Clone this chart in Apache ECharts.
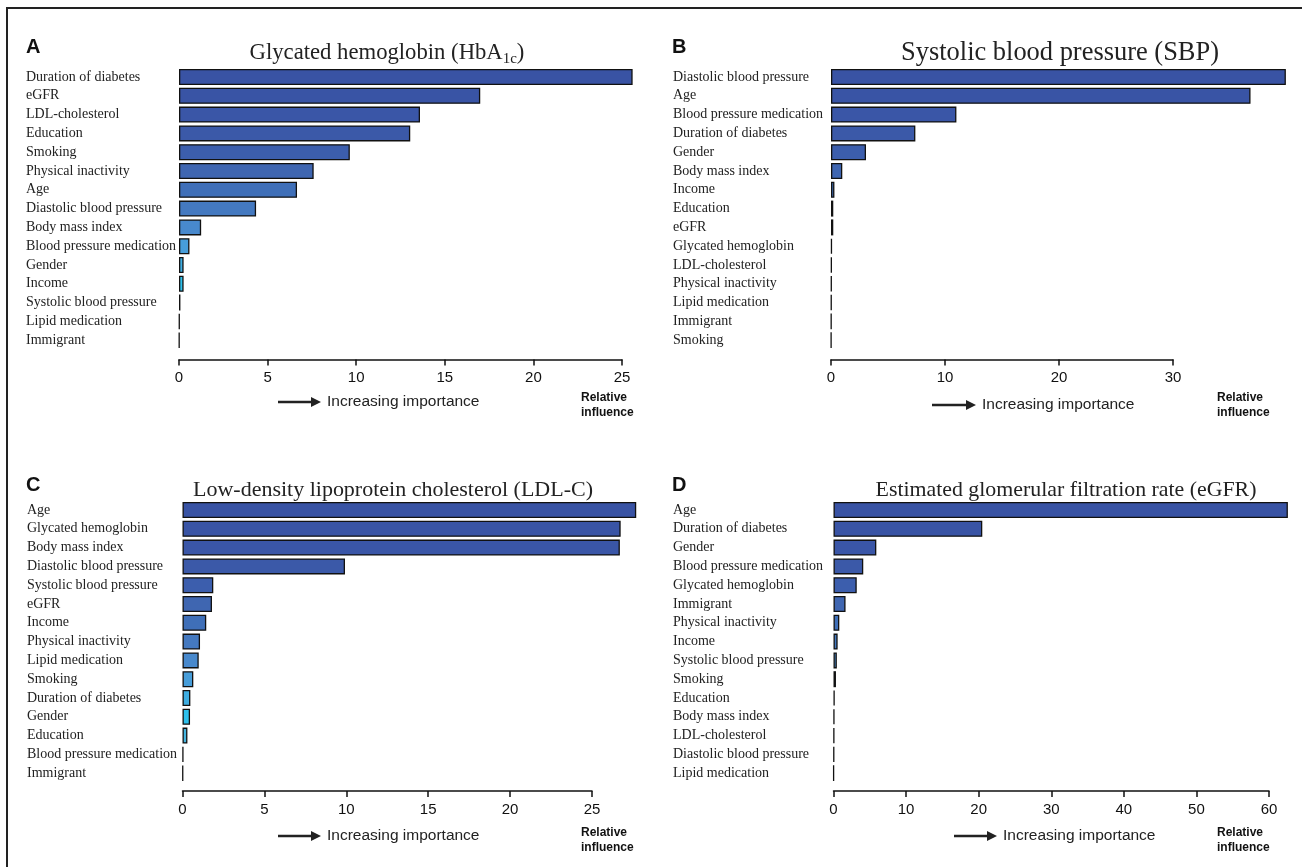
<!DOCTYPE html>
<html><head><meta charset="utf-8">
<script src="https://cdn.jsdelivr.net/npm/echarts@6/dist/echarts.min.js"></script>
<style>html,body{margin:0;padding:0;background:#fff}#c{width:1302px;height:867px}</style>
</head><body><div id="c"></div>
<script>
// ---- data ----
const catsA = ['Duration of diabetes','eGFR','LDL-cholesterol','Education','Smoking','Physical inactivity','Age','Diastolic blood pressure','Body mass index','Blood pressure medication','Gender','Income','Systolic blood pressure','Lipid medication','Immigrant'];
const valsA = [25.6, 17.0, 13.6, 13.05, 9.64, 7.6, 6.66, 4.35, 1.25, 0.59, 0.26, 0.26, 0.08, 0.03, 0.02];
const catsB = ['Diastolic blood pressure','Age','Blood pressure medication','Duration of diabetes','Gender','Body mass index','Income','Education','eGFR','Glycated hemoglobin','LDL-cholesterol','Physical inactivity','Lipid medication','Immigrant','Smoking'];
const valsB = [39.9, 36.8, 11.0, 7.4, 3.07, 0.99, 0.3, 0.2, 0.2, 0.08, 0.06, 0.05, 0.04, 0.03, 0.02];
const catsC = ['Age','Glycated hemoglobin','Body mass index','Diastolic blood pressure','Systolic blood pressure','eGFR','Income','Physical inactivity','Lipid medication','Smoking','Duration of diabetes','Gender','Education','Blood pressure medication','Immigrant'];
const valsC = [27.7, 26.75, 26.7, 9.92, 1.88, 1.8, 1.45, 1.07, 0.99, 0.66, 0.48, 0.46, 0.3, 0.05, 0.03];
const catsD = ['Age','Duration of diabetes','Gender','Blood pressure medication','Glycated hemoglobin','Immigrant','Physical inactivity','Income','Systolic blood pressure','Smoking','Education','Body mass index','LDL-cholesterol','Diastolic blood pressure','Lipid medication'];
const valsD = [62.6, 20.5, 5.9, 4.1, 3.2, 1.66, 0.8, 0.57, 0.46, 0.34, 0.17, 0.12, 0.1, 0.08, 0.03];
const axisA = {max: 25, step: 5};
const axisB = {max: 30, step: 10};
const axisC = {max: 25, step: 5};
const axisD = {max: 60, step: 10};
const titleA = ['Glycated hemoglobin (HbA', '1c', ')'];
const titleB = 'Systolic blood pressure (SBP)';
const titleC = 'Low-density lipoprotein cholesterol (LDL-C)';
const titleD = 'Estimated glomerular filtration rate (eGFR)';

// ---- style ----
const palette = ['#3953a4','#3954a5','#3a56a7','#3b59a8','#3c5ead','#3f66b1','#3f6fb8','#4479c0','#4889cd','#479dd9','#3faee2','#2ec0ec','#45b5e0','#2e4a7a','#333333'];
const SERIF = '"Liberation Serif","Times New Roman",serif';
const SANS = '"Liberation Sans",Arial,Helvetica,sans-serif';

const panels = [
  {cats: catsA, vals: valsA, ax: axisA, left: 179, width: 443, top: 67.6, offset: 10, labelX: 26,
   letter: 'A', lx: 26, ly: 47, tx: 387, ty: 53, tw: 275, arrow: [278, 321, 402], rx: 581, ry: 398},
  {cats: catsB, vals: valsB, ax: axisB, left: 831, width: 342, top: 67.6, offset: 10, labelX: 673,
   letter: 'B', lx: 672, ly: 47, tx: 1060, ty: 53, tw: 318, arrow: [932, 976, 405], rx: 1217, ry: 398},
  {cats: catsC, vals: valsC, ax: axisC, left: 182.5, width: 409.5, top: 500.6, offset: 8.5, labelX: 27,
   letter: 'C', lx: 26, ly: 485, tx: 393, ty: 490, tw: 400, arrow: [278, 321, 836], rx: 581, ry: 833},
  {cats: catsD, vals: valsD, ax: axisD, left: 833.5, width: 435.5, top: 500.6, offset: 8.5, labelX: 673,
   letter: 'D', lx: 672, ly: 485, tx: 1066, ty: 490, tw: 381, arrow: [954, 997, 836], rx: 1217, ry: 833}
];
const band = 18.8;

const grids = [], xAxes = [], yAxes = [], series = [], graphics = [];
graphics.push({type: 'rect', shape: {x: 7, y: 8, width: 1320, height: 900},
  style: {fill: 'none', stroke: '#222', lineWidth: 2}, silent: true});

const mctx = document.createElement('canvas').getContext('2d');
function tw(t, font) { mctx.font = font; return mctx.measureText(t).width; }

panels.forEach((p, i) => {
  grids.push({left: p.left, top: p.top, width: p.width, height: band * p.cats.length});
  xAxes.push({type: 'value', gridIndex: i, min: 0, max: p.ax.max, interval: p.ax.step, offset: p.offset,
    axisLine: {show: true, lineStyle: {color: '#111', width: 1.5}},
    axisTick: {show: true, length: 6, lineStyle: {color: '#111', width: 1.5}},
    axisLabel: {fontFamily: SANS, fontSize: 15, color: '#111', margin: 11},
    splitLine: {show: false}});
  yAxes.push({type: 'category', gridIndex: i, data: p.cats, inverse: true,
    axisLine: {show: false}, axisTick: {show: false}, splitLine: {show: false},
    axisLabel: {align: 'left', margin: p.left - p.labelX, fontFamily: SERIF, fontSize: 14, color: '#222'}});
  series.push({type: 'bar', xAxisIndex: i, yAxisIndex: i, clip: false, barWidth: 16,
    data: p.vals.map((v, k) => ({value: v, itemStyle: {color: palette[k]}})),
    itemStyle: {borderColor: '#111', borderWidth: 1.3}, silent: true});

  // panel letter
  graphics.push({type: 'text', x: p.lx, y: p.ly, silent: true,
    style: {text: p.letter, font: 'bold 20px ' + SANS, fill: '#111', textVerticalAlign: 'middle'}});
  // title, font size fitted to the reference's title width
  if (i === 0) {
    const base = tw(titleA[0] + ')', '20px ' + SERIF) + tw(titleA[1], '13.3px ' + SERIF);
    const fs = 20 * p.tw / base;
    const tf = fs.toFixed(2) + 'px ' + SERIF, sf = (fs * 0.66).toFixed(2) + 'px ' + SERIF;
    const w1 = tw(titleA[0], tf), w2 = tw(titleA[1], sf), w3 = tw(titleA[2], tf);
    const x0 = p.tx - (w1 + w2 + w3) / 2;
    graphics.push({type: 'text', x: x0, y: p.ty, silent: true, style: {text: titleA[0], font: tf, fill: '#222', textVerticalAlign: 'middle'}});
    graphics.push({type: 'text', x: x0 + w1, y: p.ty + 6, silent: true, style: {text: titleA[1], font: sf, fill: '#222', textVerticalAlign: 'middle'}});
    graphics.push({type: 'text', x: x0 + w1 + w2, y: p.ty, silent: true, style: {text: titleA[2], font: tf, fill: '#222', textVerticalAlign: 'middle'}});
  } else {
    const t = [null, titleB, titleC, titleD][i];
    const fs = 20 * p.tw / tw(t, '20px ' + SERIF);
    graphics.push({type: 'text', x: p.tx, y: p.ty, silent: true, style: {text: t, font: fs.toFixed(2) + 'px ' + SERIF, fill: '#222', textAlign: 'center', textVerticalAlign: 'middle'}});
  }
  // arrow + increasing importance
  const [ax0, ax1, ay] = p.arrow;
  graphics.push({type: 'line', silent: true, shape: {x1: ax0, y1: ay, x2: ax1 - 8, y2: ay}, style: {stroke: '#222', lineWidth: 2.5}});
  graphics.push({type: 'polygon', silent: true, shape: {points: [[ax1 - 10, ay - 5], [ax1, ay], [ax1 - 10, ay + 5]]}, style: {fill: '#222'}});
  graphics.push({type: 'text', x: ax1 + 6, y: ay, silent: true, style: {text: 'Increasing importance', font: '15.5px ' + SANS, fill: '#222', textVerticalAlign: 'middle'}});
  graphics.push({type: 'text', x: p.rx, y: p.ry, silent: true, style: {text: 'Relative', font: 'bold 12px ' + SANS, fill: '#111', textVerticalAlign: 'middle'}});
  graphics.push({type: 'text', x: p.rx, y: p.ry + 15, silent: true, style: {text: 'influence', font: 'bold 12px ' + SANS, fill: '#111', textVerticalAlign: 'middle'}});
});

const chart = echarts.init(document.getElementById('c'), null, {renderer: 'canvas'});
chart.setOption({
  animation: false,
  backgroundColor: '#fff',
  grid: grids, xAxis: xAxes, yAxis: yAxes, series: series,
  graphic: graphics
});
</script></body></html>
